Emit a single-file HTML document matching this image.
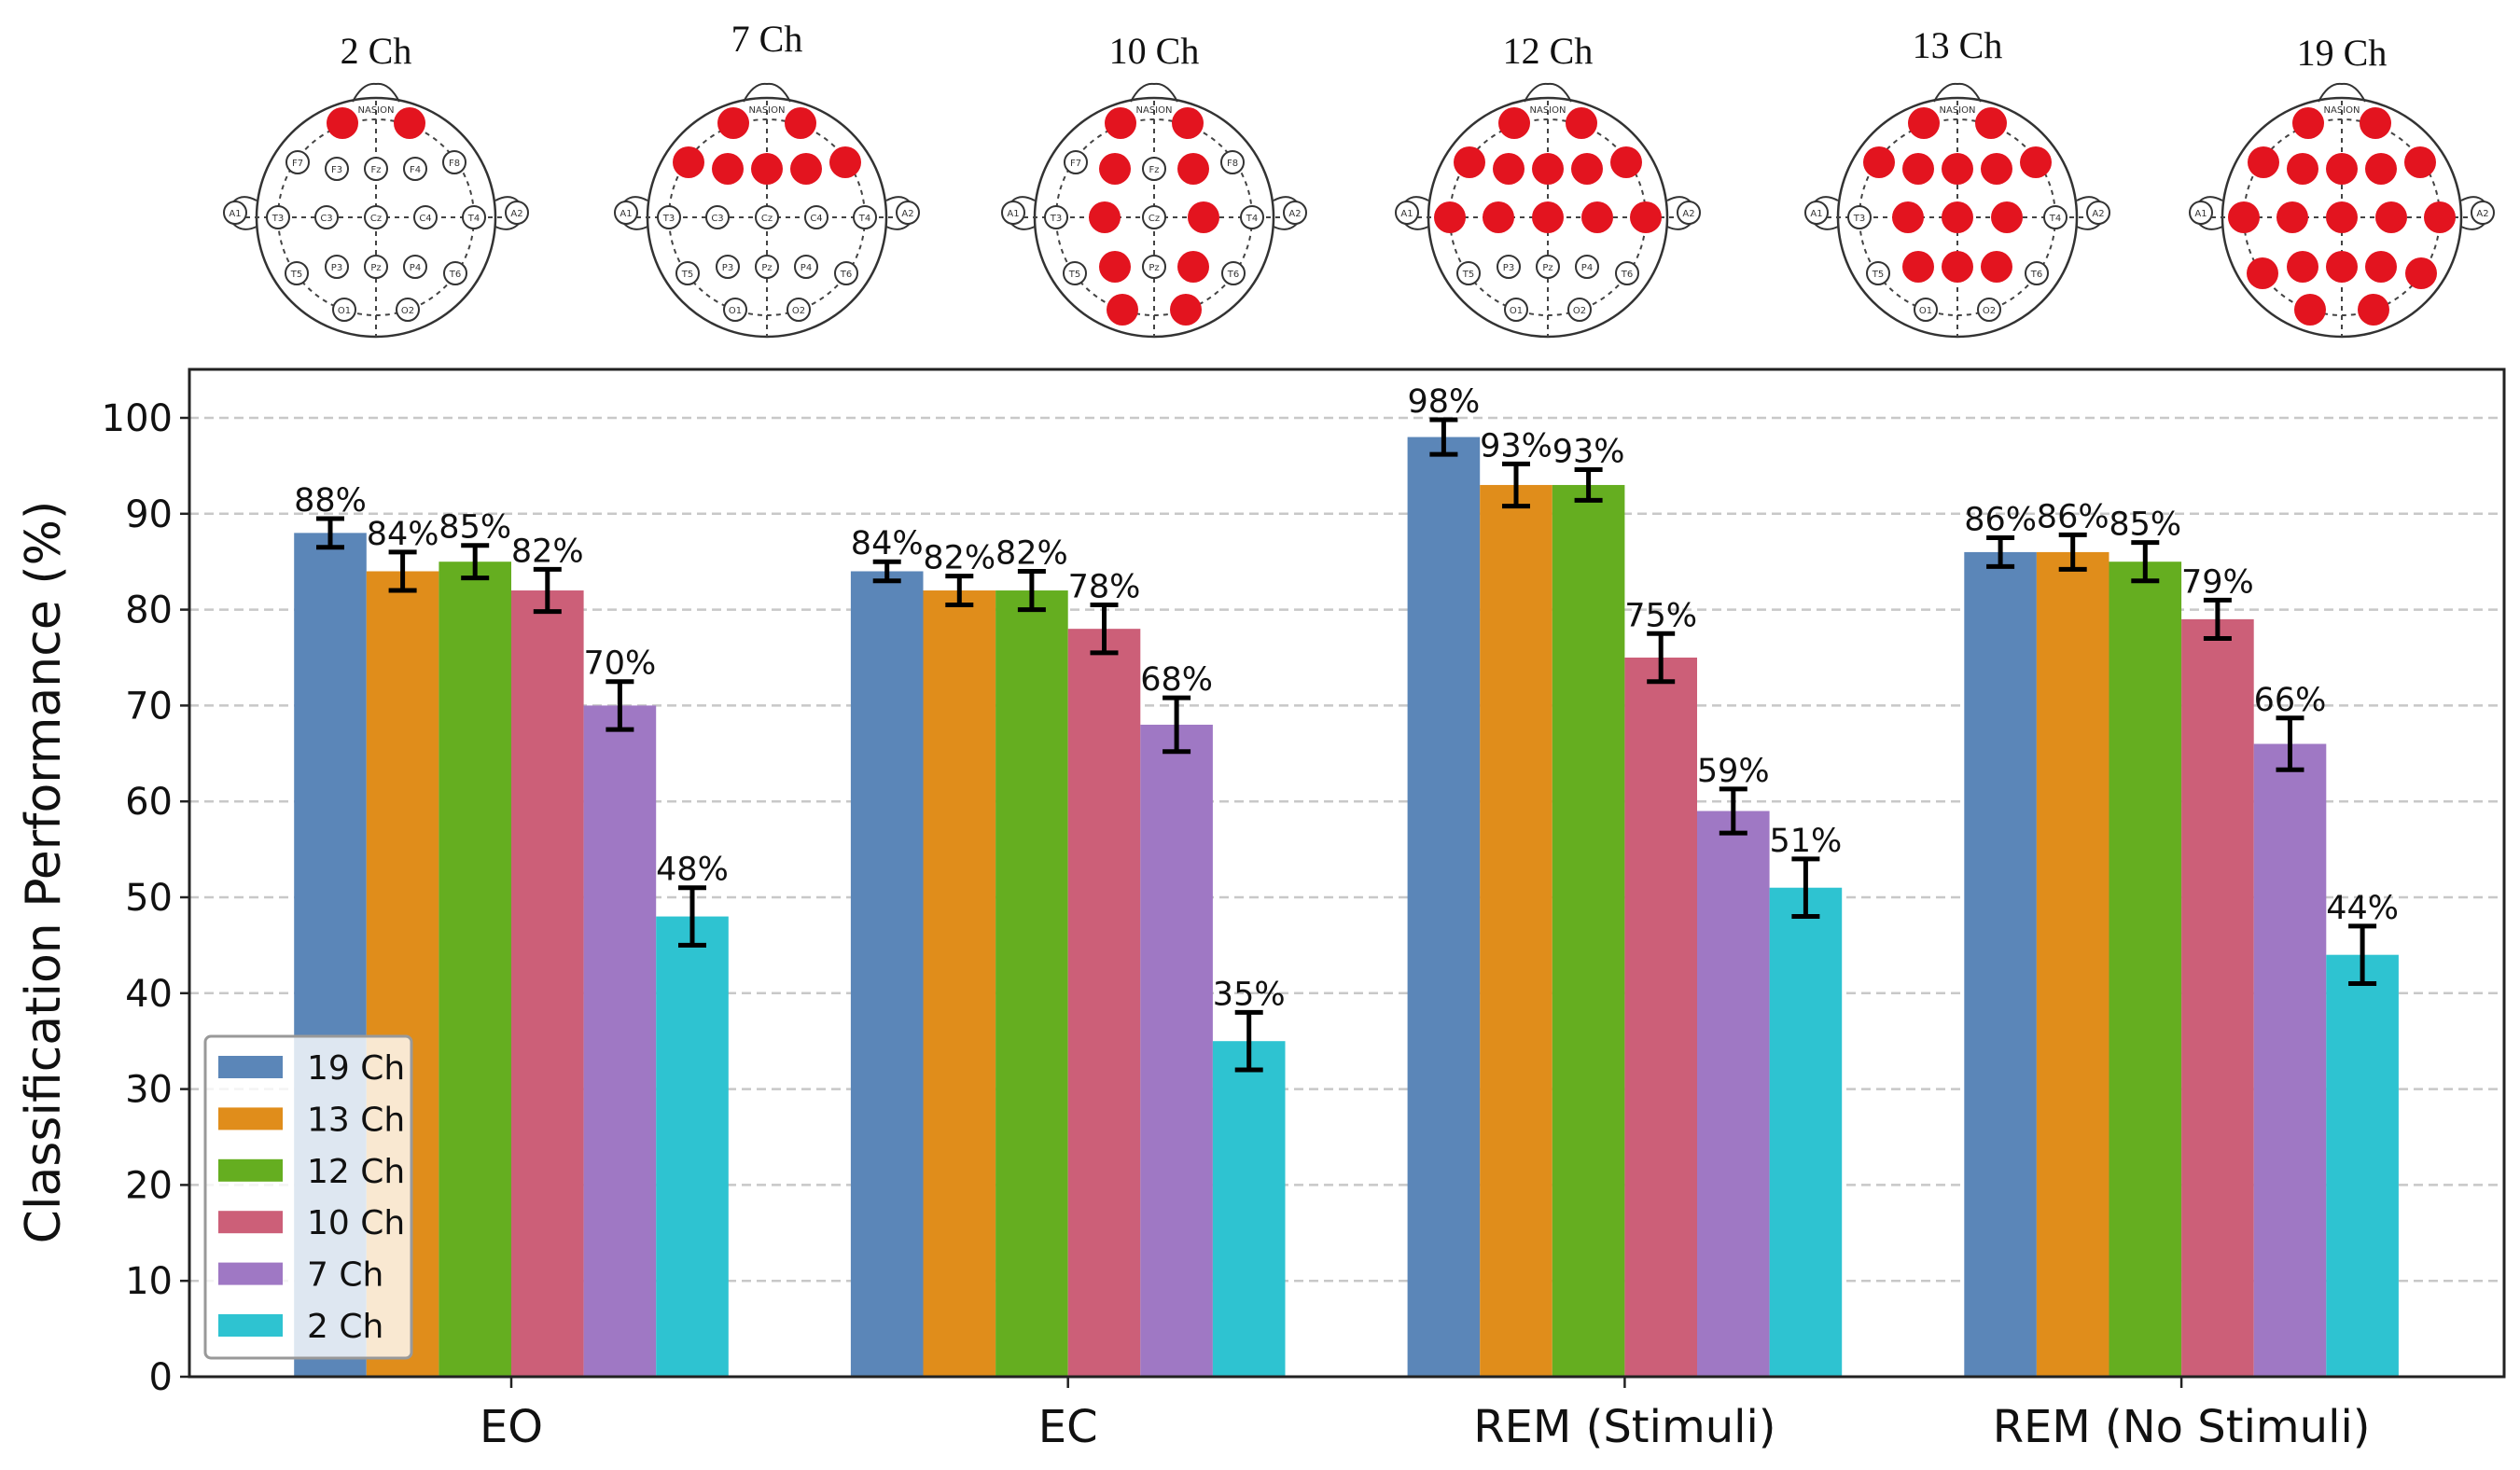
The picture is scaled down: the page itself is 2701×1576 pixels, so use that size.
<!DOCTYPE html>
<html><head><meta charset="utf-8"><style>
html,body{margin:0;padding:0;background:#fff;}
svg{display:block;}
text{font-family:"DejaVu Sans","Liberation Sans",sans-serif;}
text.serif{font-family:"Liberation Serif",serif;}
</style></head><body>
<svg id="c" width="2701" height="1576" xmlns="http://www.w3.org/2000/svg"></svg>
<script>
const categories=["EO","EC","REM (Stimuli)","REM (No Stimuli)"];
const seriesNames=["19 Ch","13 Ch","12 Ch","10 Ch","7 Ch","2 Ch"];
const s19=[88,84,98,86];
const s13=[84,82,93,86];
const s12=[85,82,93,85];
const s10=[82,78,75,79];
const s7=[70,68,59,66];
const s2=[48,35,51,44];
const e19=[1.5,1,1.8,1.5];
const e13=[2,1.5,2.2,1.8];
const e12=[1.7,2,1.6,2];
const e10=[2.2,2.5,2.5,2];
const e7=[2.5,2.8,2.3,2.7];
const e2=[3,3,3,3];
const yTicks=[0,10,20,30,40,50,60,70,80,90,100];
const headTitles=["2 Ch","7 Ch","10 Ch","12 Ch","13 Ch","19 Ch"];

const colors=["#5b86b8","#e08d1b","#65ae20","#cc5f78","#9f78c4","#2ec3d1"];
const series=[s19,s13,s12,s10,s7,s2];
const errs=[e19,e13,e12,e10,e7,e2];
const NS="http://www.w3.org/2000/svg";
const svg=document.getElementById('c');
function mk(tag,attrs,parent){const e=document.createElementNS(NS,tag);for(const k in attrs)e.setAttribute(k,attrs[k]);(parent||svg).appendChild(e);return e;}
const L=203,R=2684,T=396,B=1476;
const y=v=>B-(v/100)*(1476-448);
const groupX=i=>548+i*596.7;
const bw=77.6;

yTicks.forEach(t=>{
  if(t>0){const g=mk('line',{x1:L,x2:R,y1:y(t),y2:y(t),stroke:'#c8c8c8','stroke-width':2.5,'stroke-dasharray':'10,6'});
  
  }
  const tk=mk('line',{x1:L-10,x2:L,y1:y(t),y2:y(t),stroke:'#222','stroke-width':2.5});
  
  
  const tx=mk('text',{x:L-18,y:y(t)+14,'text-anchor':'end','font-size':40,fill:'#111'});
  tx.textContent=t;
  
  
});
categories.forEach((c,i)=>{
  const cx=groupX(i);
  series.forEach((s,j)=>{
    const x=cx-3*bw+j*bw;
    const r=mk('rect',{x:x,y:y(s[i]),width:bw,height:B-y(s[i]),fill:colors[j]});
    
    
    const mx=x+bw/2,e=errs[j][i];
    const eb=mk('g',{stroke:'#000','stroke-width':5});
    
    
    mk('line',{x1:mx,x2:mx,y1:y(s[i]+e),y2:y(s[i]-e)},eb);
    mk('line',{x1:mx-15,x2:mx+15,y1:y(s[i]+e),y2:y(s[i]+e)},eb);
    mk('line',{x1:mx-15,x2:mx+15,y1:y(s[i]-e),y2:y(s[i]-e)},eb);
    const lb=mk('text',{x:mx,y:y(s[i]+e)-8,'text-anchor':'middle','font-size':35,fill:'#111'});
    lb.textContent=s[i]+'%';
    
    
  });
  const tk=mk('line',{x1:cx,x2:cx,y1:B,y2:B+12,stroke:'#222','stroke-width':2.5});
  
  
  const xl=mk('text',{x:cx,y:B+70,'text-anchor':'middle','font-size':48,fill:'#111'});
  xl.textContent=c;
  
  
});
const fr=mk('rect',{x:L,y:T,width:R-L,height:B-T,fill:'none',stroke:'#222','stroke-width':3});


const yl=mk('text',{x:0,y:0,'text-anchor':'middle','font-size':52,fill:'#111',transform:'translate(64,935) rotate(-90)'});
yl.textContent='Classification Performance (%)';


const lg=mk('g',{});


mk('rect',{x:220,y:1111,width:221,height:345,rx:6,fill:'rgba(255,255,255,0.8)',stroke:'#999','stroke-width':3},lg);
seriesNames.forEach((n,j)=>{
  const yy=1144+j*55.4;
  const p=mk('rect',{x:234,y:yy-12,width:69,height:24,fill:colors[j]},lg);
  
  
  const t=mk('text',{x:329,y:yy+13,'font-size':36,fill:'#111'},lg);
  t.textContent=n;
  
  
});
const elec={Fp1:[-36,-101],Fp2:[36,-101],F7:[-84,-59],F3:[-42,-52],Fz:[0,-52],F4:[42,-52],F8:[84,-59],
T3:[-105,0],C3:[-53,0],Cz:[0,0],C4:[53,0],T4:[105,0],T5:[-85,60],P3:[-42,53],Pz:[0,53],P4:[42,53],T6:[85,60],O1:[-34,99],O2:[34,99]};
const sets=[["Fp1","Fp2"],["Fp1","Fp2","F7","F3","Fz","F4","F8"],["Fp1","Fp2","F3","F4","C3","C4","P3","P4","O1","O2"],
["Fp1","Fp2","F7","F3","Fz","F4","F8","T3","C3","Cz","C4","T4"],["Fp1","Fp2","F7","F3","Fz","F4","F8","C3","Cz","C4","P3","Pz","P4"],Object.keys(elec)];
const headCx=[403,822,1237,1659,2098,2510];
const headTy=[68,55,68,68,62,70];
headTitles.forEach((h,i)=>{
  const cx=headCx[i],cy=233;
  const g=mk('g',{});
  
  
  const t=mk('text',{x:cx,y:headTy[i],'text-anchor':'middle','font-size':40,fill:'#111','class':'serif'},g);
  t.textContent=h;
  mk('path',{d:`M${cx-25} ${cy-124} Q${cx-14} ${cy-145} ${cx} ${cy-143} Q${cx+14} ${cy-145} ${cx+25} ${cy-124}`,fill:'none',stroke:'#333','stroke-width':2},g);
  mk('circle',{cx:cx,cy:cy,r:128,fill:'none',stroke:'#333','stroke-width':2.5},g);
  mk('path',{d:`M${cx-128} ${cy-18} Q${cx-150} ${cy-30} ${cx-160} ${cy-5} Q${cx-150} ${cy+20} ${cx-128} ${cy+10}`,fill:'none',stroke:'#333','stroke-width':2},g);
  mk('path',{d:`M${cx+128} ${cy-18} Q${cx+150} ${cy-30} ${cx+160} ${cy-5} Q${cx+150} ${cy+20} ${cx+128} ${cy+10}`,fill:'none',stroke:'#333','stroke-width':2},g);
  mk('circle',{cx:cx-151,cy:cy-5,r:12,fill:'#fff',stroke:'#333','stroke-width':2},g);
  mk('circle',{cx:cx+151,cy:cy-5,r:12,fill:'#fff',stroke:'#333','stroke-width':2},g);
  mk('line',{x1:cx,x2:cx,y1:cy-125,y2:cy+128,stroke:'#444','stroke-width':2,'stroke-dasharray':'5,5'},g);
  mk('line',{x1:cx-140,x2:cx+140,y1:cy,y2:cy,stroke:'#444','stroke-width':2,'stroke-dasharray':'5,5'},g);
  mk('circle',{cx:cx,cy:cy,r:105,fill:'none',stroke:'#444','stroke-width':2,'stroke-dasharray':'5,5'},g);
  const nt=mk('text',{x:cx,y:cy-112,'text-anchor':'middle','font-size':10,fill:'#333'},g);
  nt.textContent='NASION';
  const on=sets[i];
  for(const k in elec){
    const [dx,dy]=elec[k];
    if(on.includes(k)){
      mk('circle',{cx:cx+dx,cy:cy+dy,r:17,fill:'#e3141f'},g);
    }else if(!k.startsWith('Fp')){
      mk('circle',{cx:cx+dx,cy:cy+dy,r:12,fill:'#fff',stroke:'#333','stroke-width':2},g);
      const et=mk('text',{x:cx+dx,y:cy+dy+4,'text-anchor':'middle','font-size':10,fill:'#333'},g);
      et.textContent=k;
    }
  }
  const a1=mk('text',{x:cx-151,y:cy-1,'text-anchor':'middle','font-size':10,fill:'#333'},g);
  a1.textContent='A1';
  const a2=mk('text',{x:cx+151,y:cy-1,'text-anchor':'middle','font-size':10,fill:'#333'},g);
  a2.textContent='A2';
});
</script>
</body></html>
